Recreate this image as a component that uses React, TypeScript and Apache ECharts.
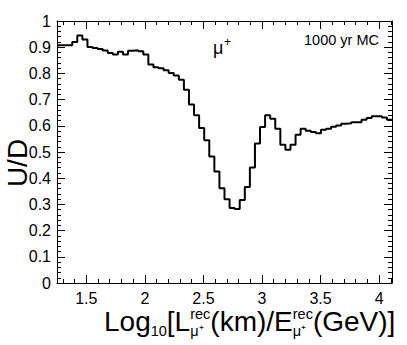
import React, { useEffect, useRef } from "react";
import * as echarts from "echarts";

// Histogram binning (x range of the frame)
const binStart = 1.25;
const binEnd = 4.11;
// U/D ratio per bin
const ratio = [
  0.907, 0.907, 0.907, 0.92, 0.945, 0.929, 0.901, 0.897, 0.893, 0.887,
  0.878, 0.872, 0.883, 0.872, 0.886, 0.888, 0.885, 0.872, 0.834, 0.823,
  0.82, 0.812, 0.802, 0.792, 0.776, 0.738, 0.681, 0.64, 0.592, 0.545,
  0.483, 0.426, 0.362, 0.32, 0.286, 0.282, 0.317, 0.366, 0.441, 0.532,
  0.595, 0.64, 0.627, 0.589, 0.528, 0.509, 0.528, 0.566, 0.589, 0.581,
  0.576, 0.572, 0.585, 0.589, 0.596, 0.601, 0.608, 0.61, 0.614, 0.614,
  0.623, 0.63, 0.636, 0.636, 0.632, 0.623,
];
const xMajorTicks = [1.5, 2, 2.5, 3, 3.5, 4];
const xMinorTicks = [
  1.3, 1.4, 1.6, 1.7, 1.8, 1.9, 2.1, 2.2, 2.3, 2.4, 2.6, 2.7, 2.8, 2.9,
  3.1, 3.2, 3.3, 3.4, 3.6, 3.7, 3.8, 3.9, 4.1,
];
const yMin = 0;
const yMax = 1;
const yStep = 0.1;

const FONT = '"Liberation Sans", Arial, Helvetica, sans-serif';

function measure(text: string, size: number): number {
  const c = document.createElement("canvas").getContext("2d");
  if (!c) return text.length * size * 0.55;
  c.font = `${size}px ${FONT}`;
  return c.measureText(text).width;
}

type Part = { t?: string; kind?: "big" | "sub"; sup?: string; sub?: string };
const titleParts: Part[] = [
  { t: "Log", kind: "big" },
  { t: "10", kind: "sub" },
  { t: "[L", kind: "big" },
  { sup: "rec", sub: "μ⁺" },
  { t: "(km)/E", kind: "big" },
  { sup: "rec", sub: "μ⁺" },
  { t: "(GeV)]", kind: "big" },
];

export default function App() {
  const ref = useRef<HTMLDivElement>(null);
  useEffect(() => {
    if (!ref.current) return;
    const chart = echarts.init(ref.current, null, { renderer: "svg" });
    const binW = (binEnd - binStart) / ratio.length;
    const data: number[][] = ratio.map((v, i) => [binStart + i * binW, v]);
    data.push([binEnd, ratio[ratio.length - 1]]);

    const black = "#000";
    const axisLine = { show: true, lineStyle: { color: black, width: 1 } };

    // x-axis title with sub/superscripts
    const BIG = 28;
    const SMALL = 14.5;
    const baseline = 331;
    let x = 104;
    const titleEls: any[] = [];
    const txt = (s: string, px: number, mid: number, size: number) => ({
      type: "text",
      x: px,
      y: mid,
      style: {
        text: s,
        fontSize: size,
        fontFamily: FONT,
        fill: black,
        align: "left",
        verticalAlign: "middle",
      },
    });
    for (const p of titleParts) {
      if (p.t && p.kind === "big") {
        titleEls.push(txt(p.t, x, baseline - 0.35 * BIG, BIG));
        x += measure(p.t, BIG);
      } else if (p.t && p.kind === "sub") {
        titleEls.push(txt(p.t, x, baseline + 5 - 0.35 * SMALL, SMALL));
        x += measure(p.t, SMALL);
      } else if (p.sup && p.sub) {
        titleEls.push(txt(p.sup, x, baseline - 12 - 0.35 * SMALL, SMALL));
        titleEls.push(txt(p.sub, x, baseline + 5 - 0.35 * SMALL, SMALL));
        x += Math.max(measure(p.sup, SMALL), measure(p.sub, SMALL));
      }
    }

    const grid = { left: 57, top: 21, width: 335, height: 262 };

    chart.setOption({
      animation: false,
      grid,
      xAxis: [
        {
          type: "value",
          position: "bottom",
          min: binStart,
          max: binEnd,
          axisLine,
          axisTick: {
            show: true,
            inside: true,
            length: 8,
            customValues: xMajorTicks,
            lineStyle: { color: black },
          },
          axisLabel: {
            customValues: xMajorTicks,
            fontSize: 16,
            fontFamily: FONT,
            color: black,
            margin: 7,
          },
          splitLine: { show: false },
        },
        {
          type: "value",
          position: "bottom",
          min: binStart,
          max: binEnd,
          axisLine: { show: false },
          axisTick: {
            show: true,
            inside: true,
            length: 4,
            customValues: xMinorTicks,
            lineStyle: { color: black },
          },
          axisLabel: { show: false },
          splitLine: { show: false },
        },
        {
          type: "value",
          position: "top",
          min: binStart,
          max: binEnd,
          axisLine,
          axisTick: {
            show: true,
            inside: true,
            length: 8,
            customValues: xMajorTicks,
            lineStyle: { color: black },
          },
          axisLabel: { show: false },
          splitLine: { show: false },
        },
        {
          type: "value",
          position: "top",
          min: binStart,
          max: binEnd,
          axisLine: { show: false },
          axisTick: {
            show: true,
            inside: true,
            length: 4,
            customValues: xMinorTicks,
            lineStyle: { color: black },
          },
          axisLabel: { show: false },
          splitLine: { show: false },
        },
      ],
      yAxis: [
        {
          type: "value",
          position: "left",
          min: yMin,
          max: yMax,
          interval: yStep,
          axisLine,
          axisTick: { show: true, inside: true, length: 8, lineStyle: { color: black } },
          minorTick: { show: true, splitNumber: 5, length: 4, lineStyle: { color: black } },
          axisLabel: { fontSize: 16, fontFamily: FONT, color: black, margin: 6 },
          splitLine: { show: false },
          minorSplitLine: { show: false },
        },
        {
          type: "value",
          position: "right",
          min: yMin,
          max: yMax,
          interval: yStep,
          axisLine,
          axisTick: { show: true, inside: true, length: 8, lineStyle: { color: black } },
          minorTick: { show: true, splitNumber: 5, length: 4, lineStyle: { color: black } },
          axisLabel: { show: false },
          splitLine: { show: false },
          minorSplitLine: { show: false },
        },
      ],
      series: [
        {
          type: "line",
          xAxisIndex: 0,
          yAxisIndex: 0,
          step: "end",
          data,
          showSymbol: false,
          symbol: "none",
          lineStyle: { color: black, width: 2 },
          clip: true,
        },
      ],
      graphic: [
        {
          type: "text",
          x: 379,
          y: 40,
          style: {
            text: "1000 yr MC",
            fontSize: 14.5,
            fontFamily: FONT,
            fill: black,
            align: "right",
            verticalAlign: "middle",
          },
        },
        {
          type: "text",
          x: 213,
          y: 48,
          style: {
            text: "μ",
            fontSize: 18,
            fontFamily: FONT,
            fill: black,
            align: "left",
            verticalAlign: "middle",
          },
        },
        {
          type: "text",
          x: 224,
          y: 42,
          style: {
            text: "+",
            fontSize: 12,
            fontFamily: FONT,
            fill: black,
            align: "left",
            verticalAlign: "middle",
          },
        },
        {
          type: "text",
          x: 17,
          y: 163,
          rotation: Math.PI / 2,
          style: {
            text: "U/D",
            fontSize: 28,
            fontFamily: FONT,
            fill: black,
            align: "center",
            verticalAlign: "middle",
          },
        },
        ...titleEls,
      ],
    });
    return () => chart.dispose();
  }, []);
  return (
    <div
      ref={ref}
      style={{ position: "fixed", left: 0, top: 0, width: 407, height: 345, background: "#fff" }}
    />
  );
}
